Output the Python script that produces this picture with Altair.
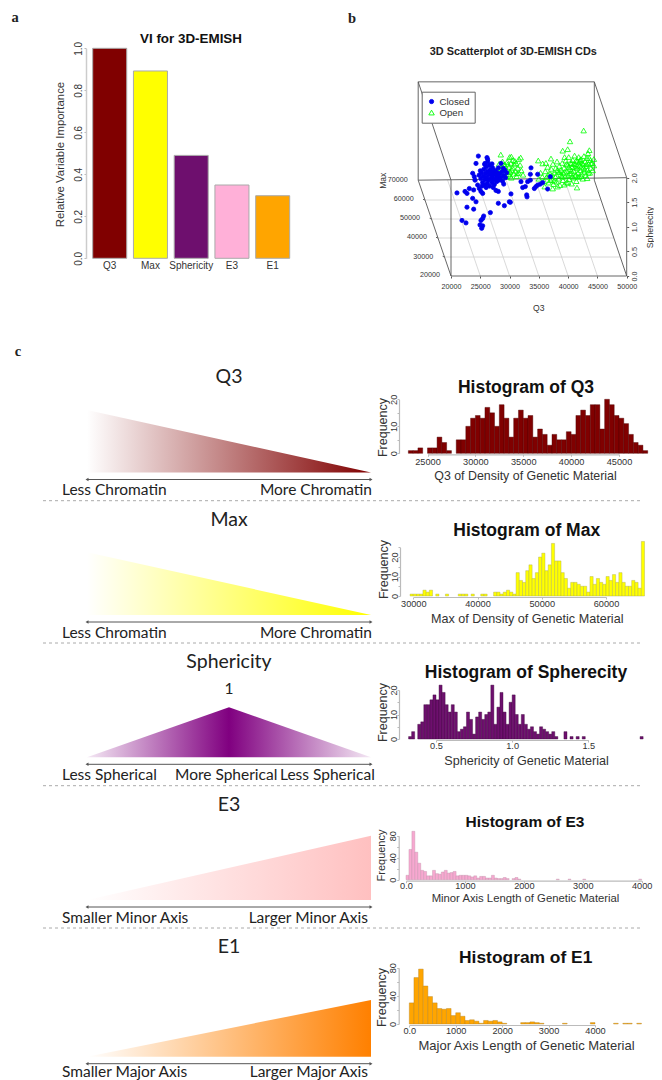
import altair as alt
import pandas as pd

W, H = 646, 1072
SANS = "Liberation Sans"
SERIF = "Liberation Serif"
CM = "Lato"

# ---------- panel a
vi_names = ["Q3", "Max", "Sphericity", "E3", "E1"]
vi_values = [1.0, 0.892, 0.49, 0.349, 0.298]
vi_colors = ["#800000", "#ffff00", "#6e0f6e", "#ffb0d8", "#ffa500"]

# ---------- panel b (values projected on the front plane of the 3D box: Q3 in thousands, Sphericity)
closed_q3 = [24.67,26.15,26.26,24.27,25.8,23.7,23.98,24.1,24.55,24.84,21.02,22.39,22.73,23.13,23.87,25.12,25.41,23.7,24.27,22.73,23.87,26.72,25.58,25.41,25.12,21.88,22.56,24.95,25.41,25.24,28.08,29.11,29.96,30.13,30.24,27.68,28.08,28.94,28.54,33.66,33.55,31.95,33.09,33.55,32.24,32.69,32.92,32.98,34.23,34.51,34.8,35.25,35.65,36.5,36.96,34.8,
             24.8,25.1,25.2,25.4,25.5,25.6,25.7,25.8,25.9,26.0,26.1,26.2,26.25,26.4,26.5,26.55,26.6,26.7,26.8,26.85,27.0,27.05,27.1,27.25,27.3,27.4,27.5,27.6,27.7,27.8,27.9,28.0,28.1,28.2,28.3,28.5,28.7,28.8,29.0,29.2,29.3,26.3,26.0,25.3,27.2,29.5,25.0,25.75,27.0,29.0]
closed_sph = [2.44,2.41,2.37,2.29,2.29,2.09,2.02,1.95,1.85,1.78,1.69,1.72,1.68,1.78,1.75,1.72,1.68,1.58,1.51,1.40,1.36,1.29,1.22,1.17,1.13,1.13,1.08,1.04,1.02,0.97,1.48,1.43,1.51,1.50,1.67,1.74,1.72,2.19,2.29,2.20,2.07,1.92,1.92,1.95,1.80,1.82,1.65,1.61,1.78,1.82,1.85,1.87,1.90,1.77,2.02,2.07,
              2.05,1.98,2.1,1.9,2.03,2.17,1.85,1.96,2.09,2.22,2.01,1.88,2.13,1.95,2.06,2.25,1.83,2.16,1.98,2.09,1.9,2.02,2.2,2.12,1.96,1.86,2.07,2.15,1.99,1.92,2.1,2.03,2.2,1.95,2.08,2.0,2.12,1.93,2.04,2.15,2.0,2.32,1.8,1.83,1.8,2.1,2.14,2.27,2.28,1.87]
open_q3 = [27.9,28.2,28.4,28.6,28.8,29.0,29.2,29.4,29.5,29.6,29.8,29.9,30.0,30.1,30.2,30.3,30.5,30.6,30.7,30.8,31.0,31.1,31.2,31.4,31.6,31.8,32.0,32.3,31.6,28.5,30.3,31.9,
           34.9,35.65,37.07,39.07,39.92,40.32,42.65,43.62,37.36,41.51,39.35,43.9,
           35.0,35.3,35.6,35.9,36.1,36.3,36.5,36.7,36.9,37.1,37.2,37.4,37.5,37.7,37.8,37.9,38.0,38.1,38.3,38.4,38.5,38.6,38.7,38.8,39.0,39.1,39.2,39.3,39.5,39.6,39.7,39.8,39.9,40.0,40.1,40.2,40.3,40.4,40.5,40.6,40.7,40.8,40.9,41.0,41.1,41.2,41.3,41.4,41.5,41.6,41.7,41.8,41.9,42.0,42.1,42.2,42.3,42.4,42.5,42.6,42.7,42.8,42.9,43.0,43.1,43.2,43.3,43.4,43.5,43.7,43.8,43.9,44.1,44.2,44.4,44.4,36.0,39.0,38.2,37.0,40.6,41.4,42.2,39.4,36.2,
           28.9,29.3,29.7,30.1,30.4,30.9,31.3,30.0,29.1,37.6,38.15,38.9,39.45,39.75,40.15,40.55,40.95,41.25,41.55,41.95,42.25,42.55,42.85,43.15,43.45,40.25,40.75,41.15,41.65,42.05,38.55,37.25,36.6,39.95,43.25,43.6]
open_sph = [2.15,2.28,2.06,2.18,2.33,2.1,2.24,2.02,2.15,2.32,2.07,2.22,2.42,2.12,2.3,2.0,2.2,2.36,2.08,2.27,2.14,2.3,2.03,2.2,2.1,2.26,2.15,2.06,2.38,2.47,2.43,2.41,
            2.35,2.29,2.39,2.55,2.58,2.74,2.96,2.56,1.78,1.80,1.86,2.29,
            1.98,2.1,2.02,1.93,2.13,2.01,2.22,1.9,2.08,2.18,1.98,2.28,1.87,2.1,2.02,2.2,1.92,2.33,2.12,1.98,2.24,1.85,2.06,2.16,2.3,1.95,2.1,2.2,2.02,2.35,1.9,2.14,2.26,2.05,2.42,1.97,2.18,2.3,2.09,1.88,2.22,2.36,2.0,2.14,2.45,2.27,2.06,1.93,2.19,2.34,2.1,2.42,2.02,2.25,2.15,2.38,2.08,2.3,1.98,2.2,2.44,2.12,2.33,2.05,2.24,2.4,2.16,2.5,2.28,2.1,2.36,2.2,2.3,2.15,2.25,2.38,1.82,2.02,1.82,1.95,2.3,2.35,2.22,2.42,2.3,
            2.2,2.11,2.27,2.04,2.16,2.34,2.09,2.12,2.27,1.94,2.15,2.04,2.12,2.28,2.22,2.14,2.28,2.04,2.24,2.32,2.03,2.28,2.17,2.28,2.1,2.08,2.02,2.21,2.02,2.36,2.12,2.06,2.06,1.9,1.99,2.4]

# box edges of the 3D frame: (q3, sph) pairs per segment
box_edges = [
    [(14400,3.95),(44470,3.95)], [(14400,3.95),(14400,1.95)], [(44470,3.95),(44470,1.95)],
    [(14400,1.95),(50000,2.0)], [(14400,3.95),(20000,1.95)], [(44470,3.95),(50000,2.0)],
    [(14400,1.95),(20000,0)], [(44470,1.95),(50000,0)], [(20000,1.95),(20000,0)],
    [(20000,0),(50000,0)], [(50000,0),(50000,2.0)],
    [(15560,1.546),(15220,1.56)], [(16700,1.159),(16360,1.173)],
    [(17780,0.773),(17440,0.787)], [(18920,0.386),(18580,0.40)],
]
floor_grid = [
    [(15560,1.546),(45600,1.546)], [(16700,1.159),(46690,1.159)],
    [(17780,0.773),(47820,0.773)], [(18920,0.386),(48900,0.386)],
    [(25000,0),(19424,1.95)], [(30000,0),(24424,1.95)], [(35000,0),(29424,1.95)],
    [(40000,0),(34424,1.95)], [(45000,0),(39424,1.95)],
]
max_ticks = ["70000","60000","50000","40000","30000","20000"]

# ---------- panel c histograms
q3_counts = [1,1,2,0,2,2,6,4,1,0, 5,5,10,13,14,13,17,15,10,18, 13,6,13,16,13,14,6,9,7,3,
             7,5,5,8,7,14,16,14,18,18, 9,20,18,14,13,11,7,4,3,1]
max_counts = [1,1,1,1,3,2,3,0,1,0, 0,1,0,0,0,1,1,1,0,1, 0,0,1,1,0,0,2,2,1,
              2,3,2,1,12,8,7,13,16,9, 12,20,22,13,16,27,18,18,12,9,
              4,7,7,6,5,5,2,10,6,9, 7,6,10,8,11,7,12,7,5,5, 8,7,4,28]
sph_counts = [1,3,0,6,7,14,14,16,18,16, 22,19,14,11,14,11,3,4,5,11, 8,2,9,11,8,10,11,22,6,13,
              19,11,6,15,18,10,6,10,6,4, 5,3,2,5,4,3,2,3, 1,0,0,3,0,1,0,1,0,1,
              0,0,0,0,0,0,0,0,0,0,0,0,0,0,0,0,0,0, 1]
e3_counts = [8,55,88,50,30,17,15,7,7,17, 11,10,14,17,12,13,15,7,8,8, 8,7,5,7,3,6,6,3,3,8,
             3,2,2,4,2,0,2,4,1,0, 0,0,0,0,0,0,0,0,0,0, 0,1,0,0,0,1,0,0,0,0,
             1,0,0,0,0,0,0,0,0,0, 0,0,0,0,0,0,0,0,0,1]
e1_counts = [30,66,78,54,39,30,22,21,22,12, 16,11,5,6,4,1,5,4,5,3, 1,0,0,0,2,2,3,2,1,0,
             0,0,0,1,0,0,0,0,0,2, 0,0,0,0,1,0,1,1,0,1]

wedge_up = ([0, 1], [0, 1])
wedge_down = ([0, 1], [1, 0])
wedge_peak = ([0, 0.5, 1], [0, 1, 0])


def px(v):
    return v - 8


def txt(s, x, y, size, font=SANS, weight="normal", align="center", angle=0, color="#222222", baseline="alphabetic"):
    return alt.Chart(alt.Data(values=[{"t": s}])).mark_text(
        font=font, fontSize=size, fontWeight=weight, align=align, angle=angle,
        color=color, baseline=baseline,
    ).encode(x=alt.value(px(x)), y=alt.value(px(y)), text="t:N")


def hist(counts, start, step, color, stroke, xdom, xrng, ydom, yrng, xticks, yticks, label_every,
         xtitle, xtitle_c, xtitle_base, xtitle_size, ytitle_x, ytitle_c, ytitle_size, tick_cy):
    df = pd.DataFrame({"lo": [start + i * step for i in range(len(counts))], "n": counts})
    df["hi"] = df["lo"] + step
    df["base"] = 0
    df = df[df["n"] > 0]
    axis_y = yrng[0] + 1
    x_left = ytitle_x + 17
    xa = alt.Axis(orient="bottom", values=xticks, title=xtitle, titleFont=SANS, titleFontSize=xtitle_size,
                  titleFontWeight="normal", titleColor="#333333", titleX=px(xtitle_c),
                  titleY=xtitle_base - axis_y, titleBaseline="alphabetic", titleAlign="center",
                  offset=px(axis_y) - H, domainColor="#bbbbbb", domainWidth=1.2, tickColor="#bbbbbb",
                  tickSize=2, labelFont=SANS, labelFontSize=9.2, labelColor="#333333", labelBaseline="middle",
                  labelPadding=tick_cy - axis_y - 2, labelOverlap=False, labelFlush=False, grid=False,
                  labelExpr="datum.value < 10 ? format(datum.value, '.1f') : format(datum.value, 'd')")
    ya = alt.Axis(orient="left", values=yticks, title="Frequency", titleFont=SANS, titleFontSize=ytitle_size,
                  titleFontWeight="normal", titleColor="#333333", titleX=ytitle_x - x_left,
                  titleY=px(ytitle_c), titleBaseline="middle", titleAlign="center", titleAngle=270,
                  offset=-px(x_left), domainColor="#bbbbbb", domainWidth=1.2, tickColor="#bbbbbb", tickSize=2,
                  labelFont=SANS, labelFontSize=9.2, labelColor="#333333", labelAngle=270,
                  labelAlign="center", labelBaseline="middle", labelPadding=4, labelOverlap=False,
                  labelExpr=f"datum.value % {label_every} == 0 ? datum.label : ''", grid=False)
    return alt.Chart(df).mark_bar(color=color, stroke=stroke, strokeWidth=0.4).encode(
        x=alt.X("lo:Q", axis=xa, scale=alt.Scale(domain=xdom, range=[px(xrng[0]), px(xrng[1])], nice=False, zero=False)),
        x2="hi:Q",
        y=alt.Y("n:Q", axis=ya, scale=alt.Scale(domain=ydom, range=[px(yrng[0]), px(yrng[1])], nice=False)),
        y2="base:Q",
    )


def wedge(shape, stops, bottom, top):
    df = pd.DataFrame({"p": shape[0], "h": shape[1]})
    grad = alt.LinearGradient(gradient="linear", x1=0, x2=1, y1=0, y2=0,
                              stops=[alt.GradientStop(offset=o, color=c) for o, c in stops])
    return alt.Chart(df).mark_area(color=grad, line=False).encode(
        x=alt.X("p:Q", axis=None, scale=alt.Scale(domain=[0, 1], range=[px(87), px(371)], nice=False)),
        y=alt.Y("h:Q", axis=None, stack=None, scale=alt.Scale(domain=[0, 1], range=[px(bottom), px(top)], nice=False)),
    )


def arrow(y):
    df = pd.DataFrame({"p": [0, 1], "s": ["triangle-left", "triangle-right"]})
    sc = alt.Scale(domain=[0, 1], range=[px(87), px(371)], nice=False)
    line = alt.Chart(df).mark_line(color="#555555", strokeWidth=1).encode(
        x=alt.X("p:Q", axis=None, scale=sc), y=alt.value(px(y)))
    heads = alt.Chart(df).mark_point(color="#555555", filled=True, size=12, opacity=1).encode(
        x=alt.X("p:Q", axis=None, scale=sc), y=alt.value(px(y)),
        shape=alt.Shape("s:N", scale=None, legend=None))
    return [line, heads]


def segments(edges):
    rows = []
    for k, seg in enumerate(edges):
        for q, s in seg:
            rows.append({"seg": k, "q": q, "s": s})
    return pd.DataFrame(rows)


layers = []

# letters
layers += [txt("a", 15, 22, 14.5, SERIF, "bold"), txt("b", 352, 22.7, 14.5, SERIF, "bold"),
           txt("c", 18, 356, 14.5, SERIF, "bold")]

# panel a
vi_df = pd.DataFrame({"name": vi_names, "v": vi_values})
layers.append(alt.Chart(vi_df).mark_bar(stroke="#aaaaaa", strokeWidth=1).encode(
    x=alt.X("name:N", sort=vi_names,
            scale=alt.Scale(domain=vi_names, range=[px(92.7), px(289.7)], paddingInner=0.165, paddingOuter=0),
            axis=alt.Axis(orient="bottom", title=None, labelAngle=0, labelFont=SANS, labelFontSize=10, labelColor="#333333",
                          domain=False, ticks=False, labelPadding=1, labelBaseline="top", labelOverlap=False,
                          offset=px(259) - H)),
    y=alt.Y("v:Q", scale=alt.Scale(domain=[0, 1], range=[px(258.3), px(48.3)], nice=False),
            axis=alt.Axis(orient="left", values=[0, 0.2, 0.4, 0.6, 0.8, 1.0], format=".1f", title="Relative Variable Importance",
                          titleFont=SANS, titleFontSize=11.4, titleFontWeight="normal", titleColor="#333333",
                          titleX=60 - 86, titleY=px(154), titleBaseline="middle", titleAlign="center", titleAngle=270,
                          offset=-px(86), domainColor="#cccccc", domainWidth=1.5, tickColor="#bbbbbb", tickSize=2,
                          labelFont=SANS, labelFontSize=10, labelColor="#333333", labelAngle=270, labelAlign="center",
                          labelBaseline="middle", labelPadding=6, labelFlush=False, grid=False)),
    color=alt.Color("name:N", scale=alt.Scale(domain=vi_names, range=vi_colors), legend=None),
))
layers.append(txt("VI for 3D-EMISH", 191, 43, 13.4, SANS, "bold", color="#111111"))

# panel b
sc_q = alt.Scale(domain=[20000, 50000], range=[px(451), px(626.7)], nice=False, zero=False)
sc_s = alt.Scale(domain=[0, 2], range=[px(276), px(177.7)], nice=False)


def seg_layer(edges, color, width):
    return alt.Chart(segments(edges)).mark_line(color=color, strokeWidth=width).encode(
        x=alt.X("q:Q", axis=None, scale=sc_q), y=alt.Y("s:Q", axis=None, scale=sc_s), detail="seg:N")


layers.append(seg_layer(floor_grid, "#cfcfcf", 0.8))
layers.append(seg_layer(box_edges, "#555555", 0.9))

pts = pd.DataFrame({
    "q": [v * 1000 for v in open_q3 + closed_q3],
    "s": open_sph + closed_sph,
    "state": ["Open"] * len(open_q3) + ["Closed"] * len(closed_q3),
})
leg = alt.Legend(title=None, orient="none", legendX=px(421.7), legendY=px(91.7), padding=5, strokeColor="#666666",
                 labelFont=SANS, labelFontSize=9.7, labelColor="#333333", symbolStrokeWidth=0.9,
                 rowPadding=0, labelOffset=3, values=["Closed", "Open"], fillColor="white", symbolOpacity=1)
dom = ["Closed", "Open"]
layers.append(alt.Chart(pts).mark_point(strokeWidth=0.8, opacity=1).encode(
    x=alt.X("q:Q", scale=sc_q,
            axis=alt.Axis(orient="bottom", values=[20000, 25000, 30000, 35000, 40000, 45000, 50000], format="d", title="Q3",
                          titleFont=SANS, titleFontSize=8.6, titleFontWeight="normal", titleColor="#333333",
                          titleX=px(538.3), titleY=310.7 - 276, titleBaseline="alphabetic",
                          offset=px(276) - H, domain=False, tickColor="#555555", tickSize=2, labelFont=SANS,
                          labelFontSize=7.2, labelColor="#333333", labelPadding=4, labelOverlap=False,
                          labelFlush=False, grid=False)),
    y=alt.Y("s:Q", scale=sc_s,
            axis=alt.Axis(orient="right", values=[0, 0.5, 1, 1.5, 2], format=".1f", title="Spherecity",
                          titleFont=SANS, titleFontSize=8.8, titleFontWeight="normal", titleColor="#333333",
                          titleX=649 - 626.7, titleY=px(227), titleBaseline="middle", titleAlign="center", titleAngle=270,
                          offset=px(626.7) - W, domain=False, tickColor="#555555", tickSize=2, labelFont=SANS,
                          labelFontSize=7.2, labelColor="#333333", labelAngle=270, labelAlign="center",
                          labelBaseline="middle", labelPadding=6, labelOverlap=False, labelFlush=False, grid=False)),
    fill=alt.Fill("state:N", scale=alt.Scale(domain=dom, range=["#0000ee", "transparent"]), legend=leg),
    stroke=alt.Stroke("state:N", scale=alt.Scale(domain=dom, range=["#0000ee", "#00ff00"]), legend=leg),
    shape=alt.Shape("state:N", scale=alt.Scale(domain=dom, range=["circle", "triangle-up"]), legend=leg),
    size=alt.Size("state:N", scale=alt.Scale(domain=dom, range=[18, 30]), legend=leg),
))
layers.append(txt("3D Scatterplot of 3D-EMISH CDs", 513.3, 55, 10.9, SANS, "bold", color="#222222"))
layers.append(txt("Max", 383, 180.7, 8.6, SANS, angle=270, baseline="middle", color="#333333"))
for lab, tx, ty in zip(max_ticks, [407.7, 413.7, 420, 427, 433.3, 440], [180, 199, 218.3, 237.3, 256.7, 275.3]):
    layers.append(txt(lab, tx, ty, 7.2, SANS, align="right", baseline="middle", color="#333333"))

# separators
for ys in [500.7, 643, 785.7, 928]:
    layers.append(alt.Chart(alt.Data(values=[{"a": 1}])).mark_rule(color="#aaaaaa", strokeWidth=1, strokeDash=[3, 3]).encode(
        x=alt.value(px(43)), x2=alt.value(px(640)), y=alt.value(px(ys))))

# wedges
layers.append(wedge(wedge_down, [(0, "#ffffff"), (1, "#800000")], 472.5, 410))
layers += arrow(479.5)
layers += [txt("Q3", 229, 383, 19.5, CM), txt("Less Chromatin", 62, 495, 15.5, CM, align="left"),
           txt("More Chromatin", 372, 495, 15.5, CM, align="right")]

layers.append(wedge(wedge_down, [(0, "#ffffff"), (1, "#ffff00")], 615, 552.3))
layers += arrow(622)
layers += [txt("Max", 229, 526, 19.5, CM), txt("Less Chromatin", 62, 637.7, 15.5, CM, align="left"),
           txt("More Chromatin", 372, 637.7, 15.5, CM, align="right")]

layers.append(wedge(wedge_peak, [(0, "#f4e8f4"), (0.5, "#800080"), (1, "#f4e8f4")], 757.3, 707.3))
layers += arrow(764.3)
layers += [txt("Sphericity", 229, 668.3, 19.5, CM), txt("1", 229, 694, 15.5, CM),
           txt("Less Spherical", 62, 780, 15.5, CM, align="left"),
           txt("More Spherical", 175, 780, 15.5, CM, align="left"),
           txt("Less Spherical", 280, 780, 15.5, CM, align="left")]

layers.append(wedge(wedge_up, [(0, "#ffffff"), (1, "#ffc0c0")], 900, 835.7))
layers += arrow(907)
layers += [txt("E3", 229, 811, 19.5, CM), txt("Smaller Minor Axis", 62, 923, 15.5, CM, align="left"),
           txt("Larger Minor Axis", 368, 923, 15.5, CM, align="right")]

layers.append(wedge(wedge_up, [(0, "#ffffff"), (1, "#ff8000")], 1056.7, 1000))
layers += arrow(1063.7)
layers += [txt("E1", 229, 952.7, 19.5, CM), txt("Smaller Major Axis", 62, 1077, 15.5, CM, align="left"),
           txt("Larger Major Axis", 368, 1077, 15.5, CM, align="right")]

# histograms
layers.append(hist(q3_counts, 23000, 500, "#800000", "#4a0000", [25000, 45000], [427.5, 619], [0, 20], [453.3, 399.3],
                   [25000, 30000, 35000, 40000, 45000], [0, 5, 10, 15, 20], 10,
                   "Q3 of Density of Genetic Material", 525, 479.3, 12.4, 382, 427, 12.5, 461))
layers.append(txt("Histogram of Q3", 526, 392.7, 17.5, SANS, "bold", color="#111111"))

layers.append(hist(max_counts, 29500, 500, "#ffff00", "#a8a850", [30000, 60000], [413.3, 606], [0, 25], [596, 547.3],
                   [30000, 40000, 50000, 60000], [0, 5, 10, 15, 20, 25], 10,
                   "Max of Density of Genetic Material", 526.7, 622, 12.6, 383, 569, 12.5, 603))
layers.append(txt("Histogram of Max", 526.7, 536, 17.5, SANS, "bold", color="#111111"))

layers.append(hist(sph_counts, 0.32, 0.02, "#6e0f6e", "#3a083a", [0.5, 1.5], [436, 588.3], [0, 20], [739, 690],
                   [0.5, 1.0, 1.5], [0, 5, 10, 15, 20], 10,
                   "Sphericity of Genetic Material", 526, 764, 12.6, 382, 712, 12.5, 745.7))
layers.append(txt("Histogram of Spherecity", 526, 678, 17.5, SANS, "bold", color="#111111"))

layers.append(hist(e3_counts, 0, 50, "#f7a8d0", "#c090a8", [0, 4000], [406, 641.7], [0, 80], [879.7, 835.7],
                   [0, 1000, 2000, 3000, 4000], [0, 20, 40, 60, 80], 40,
                   "Minor Axis Length of Genetic Material", 525, 901.7, 11.3, 381.7, 855, 11, 885))
layers.append(txt("Histogram of E3", 525, 826.7, 15.5, SANS, "bold", color="#111111"))

layers.append(hist(e1_counts, 0, 100, "#ffa500", "#b08020", [0, 4000], [409.3, 595], [0, 80], [1024, 967.7],
                   [0, 1000, 2000, 3000, 4000], [0, 20, 40, 60, 80], 40,
                   "Major Axis Length of Genetic Material", 526, 1049, 13, 381.7, 997, 12.5, 1030))
layers.append(txt("Histogram of E1", 525.7, 963, 17.4, SANS, "bold", color="#111111"))

chart = alt.layer(*layers).resolve_scale(
    x="independent", y="independent", color="independent", fill="independent", stroke="independent",
    shape="independent", size="independent"
).properties(width=W, height=H, padding=0, autosize=alt.AutoSizeParams(type="none")).configure_view(stroke=None)

chart.save("out.html", embed_options={"renderer": "svg", "actions": False})
